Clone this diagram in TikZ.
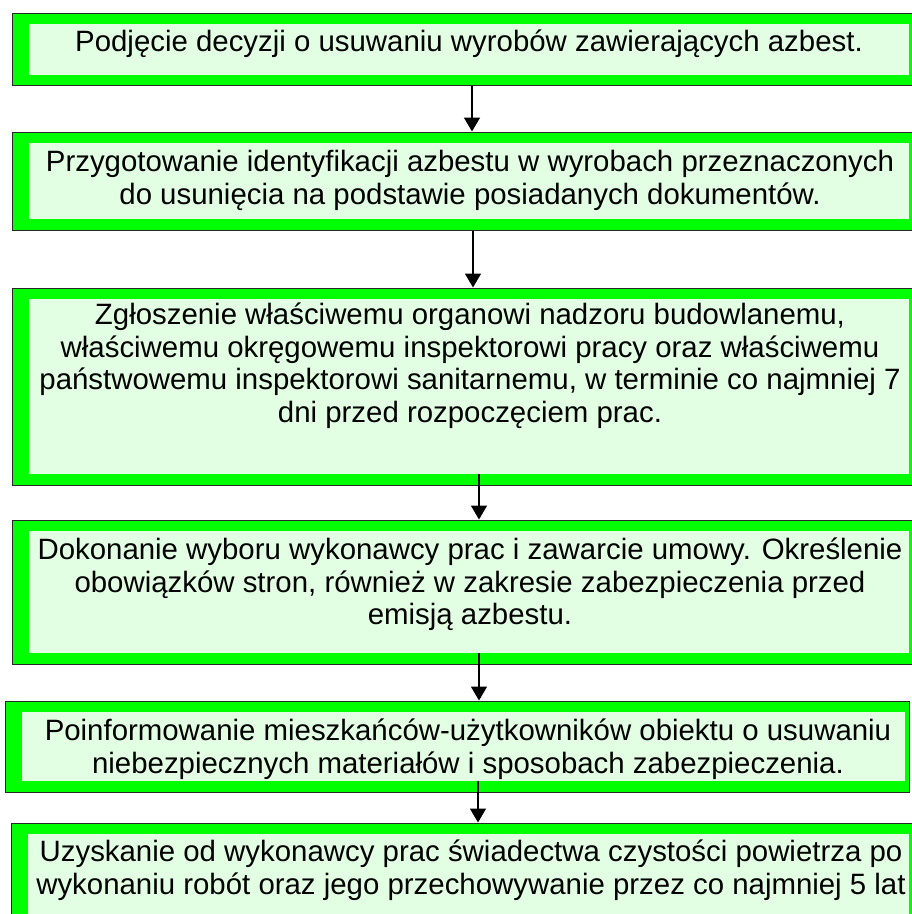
\documentclass[tikz,border=0pt]{standalone}
\usepackage{fontspec}
\setmainfont{Liberation Sans}
\usetikzlibrary{arrows.meta}
\definecolor{bandgreen}{RGB}{0,255,0}
\definecolor{paleg}{RGB}{227,255,227}
\definecolor{edgegray}{RGB}{40,40,40}
\tikzset{
  outerbox/.style={rectangle, draw=edgegray, line width=1pt, fill=bandgreen, inner sep=0pt},
  innerbox/.style={rectangle, fill=paleg, inner sep=0pt},
  txt/.style={anchor=north, inner sep=0pt, align=center, font=\fontsize{29.4}{32.5}\selectfont},
  arr/.style={line width=1.5pt, -{Triangle[length=14pt,width=16pt]}}
}
\begin{document}
\begin{tikzpicture}[x=1pt,y=-1pt]
\useasboundingbox (0,0) rectangle (912,914);
\fill[white] (0,0) rectangle (912,914);
% box 1
\node[outerbox, minimum width=901pt, minimum height=72pt] (b1) at (462.5,49) {};
\node[innerbox, minimum width=880pt, minimum height=51pt] (i1) at (469,49.5) {};
\node[txt] (t1) at (469,30) {Podjęcie decyzji o usuwaniu wyrobów zawierających azbest.};
% box 2
\node[outerbox, minimum width=901pt, minimum height=98pt] (b2) at (462.5,181) {};
\node[innerbox, minimum width=880pt, minimum height=76pt] (i2) at (469,181) {};
\node[txt] (t2) at (470,150) {Przygotowanie identyfikacji azbestu w wyrobach przeznaczonych\\do usunięcia na podstawie posiadanych dokumentów.};
% box 3
\node[outerbox, minimum width=901pt, minimum height=197pt] (b3) at (462.5,386.5) {};
\node[innerbox, minimum width=880pt, minimum height=175pt] (i3) at (469,386.5) {};
\node[txt] (t3) at (470,303) {Zgłoszenie właściwemu organowi nadzoru budowlanemu,\\właściwemu okręgowemu inspektorowi pracy oraz właściwemu\\państwowemu inspektorowi sanitarnemu, w terminie co najmniej 7\\dni przed rozpoczęciem prac.};
% box 4
\node[outerbox, minimum width=901pt, minimum height=144pt] (b4) at (462.5,592) {};
\node[innerbox, minimum width=880pt, minimum height=122pt] (i4) at (469,592) {};
\node[txt] (t4) at (470,538) {Dokonanie wyboru wykonawcy prac i zawarcie umowy. Określenie\\obowiązków stron, również w zakresie zabezpieczenia przed\\emisją azbestu.};
% box 5
\node[outerbox, minimum width=904pt, minimum height=91pt] (b5) at (457,746.5) {};
\node[innerbox, minimum width=883pt, minimum height=69pt] (i5) at (463.5,746.5) {};
\node[txt] (t5) at (468,719) {Poinformowanie mieszkańców-użytkowników obiektu o usuwaniu\\niebezpiecznych materiałów i sposobach zabezpieczenia.};
% box 6
\node[outerbox, minimum width=902pt, minimum height=102pt] (b6) at (462,874) {};
\node[innerbox, minimum width=881pt, minimum height=90pt] (i6) at (468.5,879) {};
\node[txt] (t6) at (471,840) {Uzyskanie od wykonawcy prac świadectwa czystości powietrza po\\wykonaniu robót oraz jego przechowywanie przez co najmniej 5 lat};
% arrow columns
\coordinate (c1) at (472,0);
\coordinate (c2) at (473,0);
\coordinate (c3) at (479,0);
\coordinate (c4) at (479,0);
\coordinate (c5) at (478,0);
\draw[arr] (b1.south -| c1) -- (b2.north -| c1);
\draw[arr] (b2.south -| c2) -- (b3.north -| c2);
\draw[arr] (i3.south -| c3) -- (b4.north -| c3);
\draw[arr] (i4.south -| c4) -- (b5.north -| c4);
\draw[arr] (i5.south -| c5) -- (b6.north -| c5);
\end{tikzpicture}
\end{document}
